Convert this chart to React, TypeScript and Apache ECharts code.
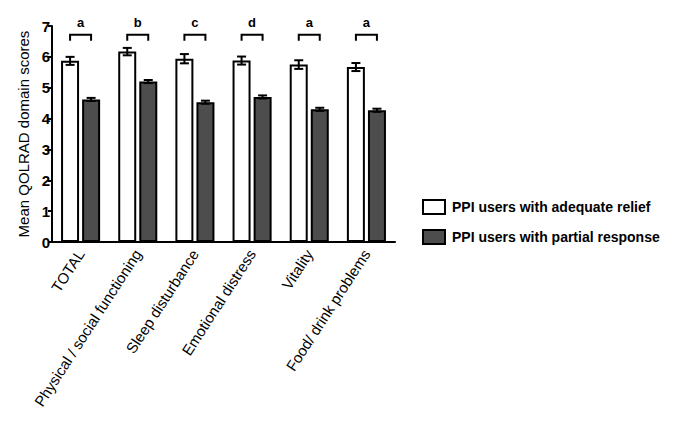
import React, { useEffect, useRef } from "react";
import * as echarts from "echarts";

const categories = [
  "TOTAL",
  "Physical / social functioning",
  "Sleep disturbance",
  "Emotional distress",
  "Vitality",
  "Food/ drink problems",
];
const adequate = [5.87, 6.17, 5.94, 5.88, 5.75, 5.67];
const adequateErr = [0.13, 0.12, 0.15, 0.13, 0.14, 0.13];
const partial = [4.62, 5.2, 4.53, 4.7, 4.3, 4.27];
const partialErr = [0.05, 0.05, 0.05, 0.05, 0.05, 0.05];
const sigLetters = ["a", "b", "c", "d", "a", "a"];
const yTicks = [0, 1, 2, 3, 4, 5, 6, 7];
const seriesNames = ["PPI users with adequate relief", "PPI users with partial response"];

const FONT = "Liberation Sans, Arial, sans-serif";
const BAR_W = 18;
const HALF = 10.5; // center offset of each bar from category center
const BRACKET_TOP = 6.72;
const BRACKET_LEG = 6.52;
const LETTER_Y = 7.1;

export default function App() {
  const ref = useRef<HTMLDivElement>(null);
  useEffect(() => {
    if (!ref.current) return;
    const chart = echarts.init(ref.current, null, { renderer: "svg" });

    const errRender = (offset: number, errs: number[]) => (params: any, api: any) => {
      const i = api.value(0);
      const v = api.value(1);
      const e = errs[i];
      const c = api.coord([i, v]);
      const x = c[0] + offset;
      const top = api.coord([i, v + e])[1];
      const bot = api.coord([i, v - e])[1];
      const cap = 4.5;
      const style = { stroke: "#000", lineWidth: 2 };
      return {
        type: "group",
        children: [
          { type: "line", shape: { x1: x, y1: top, x2: x, y2: bot }, style },
          { type: "line", shape: { x1: x - cap, y1: top, x2: x + cap, y2: top }, style },
          { type: "line", shape: { x1: x - cap, y1: bot, x2: x + cap, y2: bot }, style },
        ],
      };
    };

    const option: any = {
      animation: false,
      backgroundColor: "#fff",
      textStyle: { fontFamily: FONT },
      grid: { left: 52, top: 26, right: 285, bottom: 186, containLabel: false },
      legend: {
        orient: "vertical",
        left: 417,
        top: 194,
        itemWidth: 22,
        itemHeight: 14,
        itemGap: 14,
        icon: "rect",
        data: seriesNames,
        textStyle: { fontFamily: FONT, fontSize: 14, fontWeight: "bold", color: "#000", padding: [0, 0, 0, 2] },
      },
      xAxis: {
        type: "category",
        data: categories,
        axisLine: { lineStyle: { color: "#000", width: 2 } },
        axisTick: { show: false },
        axisLabel: {
          interval: 0,
          rotate: 57,
          margin: 9,
          color: "#000",
          fontSize: 15,
          fontFamily: FONT,
        },
      },
      yAxis: {
        type: "value",
        min: 0,
        max: 7,
        interval: 1,
        name: "Mean QOLRAD domain scores",
        nameLocation: "middle",
        nameGap: 14,
        nameRotate: 90,
        nameTextStyle: { fontSize: 15, color: "#000", fontFamily: FONT },
        splitLine: { show: false },
        axisLine: { show: true, lineStyle: { color: "#000", width: 2 } },
        axisTick: { show: true, length: 4, lineStyle: { color: "#000", width: 2 } },
        axisLabel: {
          color: "#000",
          fontSize: 15,
          fontWeight: "bold",
          margin: 2,
          fontFamily: FONT,
          formatter: (v: number) => (yTicks.includes(v) ? String(v) : ""),
        },
      },
      series: [
        {
          name: seriesNames[0],
          type: "bar",
          data: adequate,
          barWidth: BAR_W,
          barGap: "17%",
          itemStyle: { color: "#fff", borderColor: "#000", borderWidth: 2 },
        },
        {
          name: seriesNames[1],
          type: "bar",
          data: partial,
          barWidth: BAR_W,
          barGap: "17%",
          itemStyle: { color: "#4d4d4d", borderColor: "#000", borderWidth: 2 },
        },
        {
          type: "custom",
          renderItem: errRender(-HALF, adequateErr),
          data: adequate.map((v, i) => [i, v]),
          z: 5,
        },
        {
          type: "custom",
          renderItem: errRender(HALF, partialErr),
          data: partial.map((v, i) => [i, v]),
          z: 5,
        },
        {
          type: "custom",
          renderItem: (params: any, api: any) => {
            const i = api.value(0);
            const c = api.coord([i, BRACKET_TOP]);
            const leg = api.coord([i, BRACKET_LEG])[1];
            const ly = api.coord([i, LETTER_Y])[1];
            return {
              type: "group",
              children: [
                {
                  type: "polyline",
                  shape: {
                    points: [
                      [c[0] - HALF, leg],
                      [c[0] - HALF, c[1]],
                      [c[0] + HALF, c[1]],
                      [c[0] + HALF, leg],
                    ],
                  },
                  style: { stroke: "#000", lineWidth: 2, fill: "none" },
                },
                {
                  type: "text",
                  x: c[0],
                  y: ly,
                  style: {
                    text: sigLetters[i],
                    fontFamily: FONT,
                    fontSize: 13,
                    fontWeight: "bold",
                    fill: "#000",
                    align: "center",
                    verticalAlign: "middle",
                  },
                },
              ],
            };
          },
          data: categories.map((_, i) => [i, BRACKET_TOP]),
          clip: false,
          z: 5,
        },
      ],
    };
    chart.setOption(option);
    return () => chart.dispose();
  }, []);
  return <div ref={ref} style={{ width: 680, height: 428, margin: -8 }} />;
}
